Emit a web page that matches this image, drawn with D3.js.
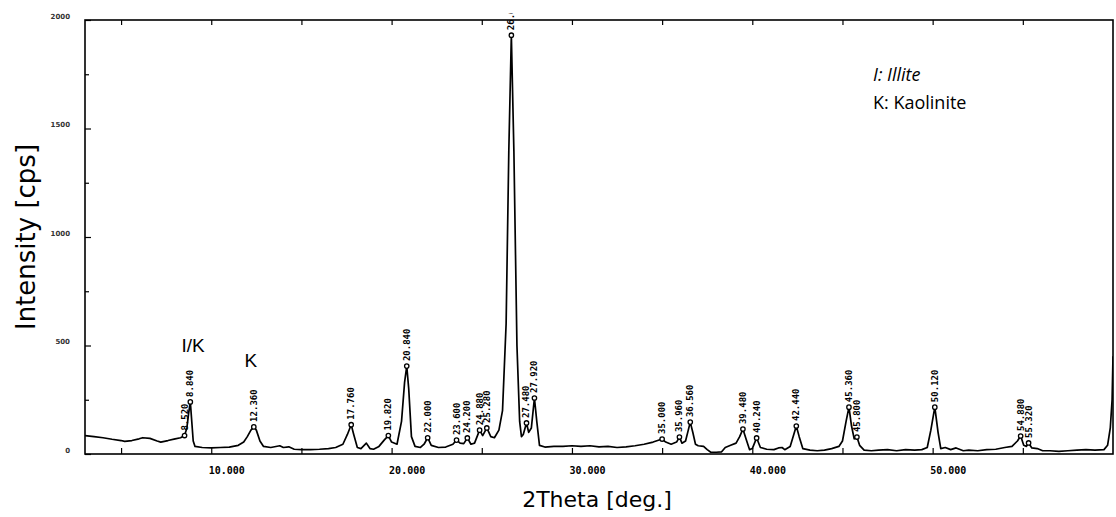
<!DOCTYPE html>
<html>
<head>
<meta charset="utf-8">
<script src="https://cdn.jsdelivr.net/npm/d3@7"></script>
<style>
  body { margin: 0; background: #fff; }
  svg { display: block; }
</style>
</head>
<body>
<div id="chart"></div>
<script>
// XRD profile (2theta in degrees, intensity in cps)
const theta = [
  3.0, 3.5, 4.0, 4.5, 5.0, 5.2, 5.6, 6.0, 6.2, 6.6, 7.0, 7.2, 7.6, 8.0, 8.3, 8.52, 8.65, 8.75, 8.84, 8.92,
  9.0, 9.1, 9.5, 10.0, 10.5, 11.0, 11.5, 11.8, 12.0, 12.2, 12.36, 12.5, 12.7, 12.9, 13.3, 13.8, 14.0, 14.3, 14.6, 15.0,
  15.5, 16.0, 16.5, 16.9, 17.3, 17.55, 17.76, 17.9, 18.1, 18.3, 18.6, 18.8, 19.0, 19.3, 19.6, 19.82, 20.0, 20.3, 20.55, 20.72,
  20.84, 20.95, 21.1, 21.3, 21.6, 21.8, 22.0, 22.2, 22.6, 23.0, 23.4, 23.6, 23.8, 24.0, 24.2, 24.4, 24.6, 24.88, 25.05, 25.28,
  25.5, 25.7, 25.95, 26.15, 26.35, 26.5, 26.64, 26.78, 26.95, 27.1, 27.2, 27.3, 27.48, 27.6, 27.75, 27.92, 28.05, 28.2, 28.5, 29.0,
  29.5, 30.0, 30.5, 31.0, 31.5, 32.0, 32.5, 33.0, 33.5, 34.0, 34.5, 35.0, 35.2, 35.5, 35.8, 35.96, 36.1, 36.3, 36.45, 36.56,
  36.7, 36.85, 37.0, 37.3, 37.5, 37.7, 38.0, 38.3, 38.5, 38.8, 39.1, 39.3, 39.48, 39.65, 39.85, 40.0, 40.24, 40.45, 40.8, 41.2,
  41.45, 41.65, 41.8, 42.1, 42.3, 42.44, 42.6, 42.8, 43.2, 43.6, 44.0, 44.4, 44.8, 45.0, 45.2, 45.36, 45.5, 45.65, 45.8, 45.95,
  46.2, 46.6, 47.0, 47.5, 48.0, 48.5, 49.0, 49.4, 49.7, 49.9, 50.12, 50.3, 50.45, 50.7, 51.0, 51.3, 51.7, 52.0, 52.5, 53.0,
  53.5, 54.0, 54.4, 54.7, 54.88, 55.05, 55.2, 55.32, 55.5, 55.8, 56.1, 56.5, 57.0, 57.5, 58.0, 58.5, 59.0, 59.5, 59.7, 59.85,
  59.95, 60.0
];
const counts = [
  85, 80, 75, 68, 62, 58, 62, 70, 75, 72, 60, 55, 62, 70, 75, 85, 120, 190, 240, 150,
  60, 35, 30, 28, 30, 32, 40, 55, 80, 110, 125, 110, 60, 35, 30, 38, 30, 33, 22, 20,
  20, 22, 25, 30, 45, 90, 135, 90, 30, 25, 50, 25, 22, 35, 65, 85, 55, 45, 150, 330,
  405, 300, 80, 35, 30, 45, 75, 40, 30, 32, 45, 64, 50, 48, 74, 45, 50, 110, 85, 120,
  80, 75, 110, 200, 600, 1400, 1930, 1400, 500, 150, 80, 90, 143, 100, 120, 258, 150, 40, 32, 35,
  35, 38, 35, 38, 33, 35, 30, 33, 38, 45, 55, 69, 55, 45, 55, 78, 50, 60, 110, 147,
  100, 45, 38, 35, 20, 8, 8, 10, 30, 40, 50, 80, 115, 70, 20, 25, 74, 30, 22, 20,
  28, 30, 20, 35, 90, 129, 80, 25, 18, 15, 18, 25, 35, 60, 150, 216, 130, 70, 78, 40,
  18, 15, 18, 20, 15, 20, 18, 20, 30, 110, 216, 100, 25, 30, 20, 28, 15, 18, 15, 20,
  22, 30, 35, 60, 83, 40, 35, 51, 28, 25, 15, 15, 12, 15, 18, 20, 18, 20, 40, 120,
  250, 450
];

// Peak position labels printed by the instrument
const peakLabels = [
  "8.520", "8.840", "12.360", "17.760", "19.820", "20.840", "22.000", "23.600", "24.200", "24.880",
  "25.280", "26.640", "27.480", "27.920", "35.000", "35.960", "36.560", "39.480", "40.240", "42.440",
  "45.360", "45.800", "50.120", "54.880", "55.320"
];

// Axis ticks
const xTicks = [5, 10, 15, 20, 25, 30, 35, 40, 45, 50, 55];
const xTickLabels = [10, 20, 30, 40, 50];
const yTicks = [0, 500, 1000, 1500, 2000];
const yMinorTicks = [250, 750, 1250, 1750];

// Mineral marks
const mineralNotes = [
  { text: "I/K", t: 8.35, c: 470 },
  { text: "K", t: 11.85, c: 400 }
];
const legendLines = ["I: Illite", "K: Kaolinite"];

const W = 1116, H = 517;
const margin = { top: 20, right: 3, bottom: 63, left: 85 };
const innerW = W - margin.left - margin.right;
const innerH = H - margin.top - margin.bottom;

const profile = theta.map((t, i) => ({ t: t, c: counts[i] }));

const svg = d3.select("#chart").append("svg")
  .attr("width", W)
  .attr("height", H);

svg.append("rect").attr("width", W).attr("height", H).attr("fill", "#fff");

const g = svg.append("g")
  .attr("transform", `translate(${margin.left},${margin.top})`);

const x = d3.scaleLinear().domain([3, 60]).range([0, innerW]);
const y = d3.scaleLinear().domain([0, 2000]).range([innerH, 0]);

// clip regions
const defs = svg.append("defs");
defs.append("clipPath").attr("id", "plotClip")
  .append("rect").attr("x", 0).attr("y", 0).attr("width", innerW).attr("height", innerH);
defs.append("clipPath").attr("id", "labelClip")
  .append("rect").attr("x", 0).attr("y", -7).attr("width", innerW).attr("height", innerH + 7);

// Bottom axis: inward ticks, labels shifted right of tick
const xAxis = g.append("g")
  .attr("transform", `translate(0,${innerH})`)
  .call(d3.axisBottom(x)
    .tickValues(xTicks)
    .tickSize(-6)
    .tickPadding(13)
    .tickFormat(d => xTickLabels.includes(d) ? d.toFixed(3) : ""));
xAxis.select(".domain").remove();
xAxis.selectAll("line").attr("stroke", "#000").attr("stroke-width", 1.2);
xAxis.selectAll("text")
  .attr("text-anchor", "start")
  .attr("x", -3)
  .attr("font-family", "DejaVu Sans Mono")
  .attr("font-weight", "bold")
  .attr("font-size", "10px")
  .attr("fill", "#000");

// Top axis ticks
const xTop = g.append("g")
  .call(d3.axisTop(x).tickValues(xTicks).tickSize(-5).tickFormat(""));
xTop.select(".domain").remove();
xTop.selectAll("line").attr("stroke", "#000").attr("stroke-width", 1.2);

// Left axis
const yAxis = g.append("g")
  .call(d3.axisLeft(y)
    .tickValues(yTicks)
    .tickSize(-6)
    .tickPadding(15)
    .tickFormat(d3.format("d")));
yAxis.select(".domain").remove();
yAxis.selectAll("line").attr("stroke", "#000").attr("stroke-width", 1.2);
yAxis.selectAll("text")
  .attr("dy", "-0.25em")
  .attr("font-family", "DejaVu Sans")
  .attr("font-weight", "bold")
  .attr("font-size", "7px")
  .attr("fill", "#333");

const yMinor = g.append("g")
  .call(d3.axisLeft(y).tickValues(yMinorTicks).tickSize(-4).tickFormat(""));
yMinor.select(".domain").remove();
yMinor.selectAll("line").attr("stroke", "#000").attr("stroke-width", 1.2);

// Frame
g.append("rect")
  .attr("x", 0).attr("y", 0)
  .attr("width", innerW).attr("height", innerH)
  .attr("fill", "none")
  .attr("stroke", "#000")
  .attr("stroke-width", 1.6);

// Profile line
const line = d3.line()
  .x(d => x(d.t))
  .y(d => y(d.c));

g.append("path")
  .datum(profile)
  .attr("clip-path", "url(#plotClip)")
  .attr("fill", "none")
  .attr("stroke", "#000")
  .attr("stroke-width", 1.7)
  .attr("stroke-linejoin", "round")
  .attr("d", line);

// Peak markers and rotated labels
const peaks = peakLabels.map(lab => {
  const t = +lab;
  const p = profile.reduce((a, b) => Math.abs(b.t - t) < Math.abs(a.t - t) ? b : a);
  return { label: lab, t: p.t, c: p.c };
});

const peakG = g.append("g").attr("clip-path", "url(#labelClip)");

peakG.selectAll("circle.peak")
  .data(peaks)
  .enter()
  .append("circle")
  .attr("class", "peak")
  .attr("cx", d => x(d.t))
  .attr("cy", d => y(d.c))
  .attr("r", 2.2)
  .attr("fill", "#fff")
  .attr("stroke", "#000")
  .attr("stroke-width", 1.3);

peakG.selectAll("text.peak")
  .data(peaks)
  .enter()
  .append("text")
  .attr("class", "peak")
  .attr("transform", d => `translate(${x(d.t) + 3},${y(d.c) - 5}) rotate(-90)`)
  .attr("font-family", "DejaVu Sans Mono")
  .attr("font-weight", "bold")
  .attr("font-size", "9px")
  .attr("fill", "#000")
  .text(d => d.label);

// Mineral annotations
g.selectAll("text.note")
  .data(mineralNotes)
  .enter()
  .append("text")
  .attr("class", "note")
  .attr("x", d => x(d.t))
  .attr("y", d => y(d.c))
  .attr("font-family", "Liberation Sans, Arial, sans-serif")
  .attr("font-size", "19px")
  .attr("fill", "#000")
  .text(d => d.text);

// Legend
g.selectAll("text.legend")
  .data(legendLines)
  .enter()
  .append("text")
  .attr("class", "legend")
  .attr("x", 788)
  .attr("y", (d, i) => 61 + i * 28)
  .attr("font-family", "'Open Sans', sans-serif")
  .attr("font-style", (d, i) => i === 0 ? "italic" : "normal")
  .attr("font-size", "18px")
  .attr("fill", "#000")
  .text(d => d);

// Axis titles
svg.append("text")
  .attr("x", margin.left + innerW / 2 - 2)
  .attr("y", 507)
  .attr("text-anchor", "middle")
  .attr("font-family", "DejaVu Sans, sans-serif")
  .attr("font-size", "22px")
  .attr("fill", "#000")
  .text("2Theta [deg.]");

svg.append("text")
  .attr("transform", `translate(35,${margin.top + innerH / 2}) rotate(-90)`)
  .attr("text-anchor", "middle")
  .attr("font-family", "DejaVu Sans, sans-serif")
  .attr("font-size", "26px")
  .attr("fill", "#000")
  .text("Intensity [cps]");
</script>
</body>
</html>
